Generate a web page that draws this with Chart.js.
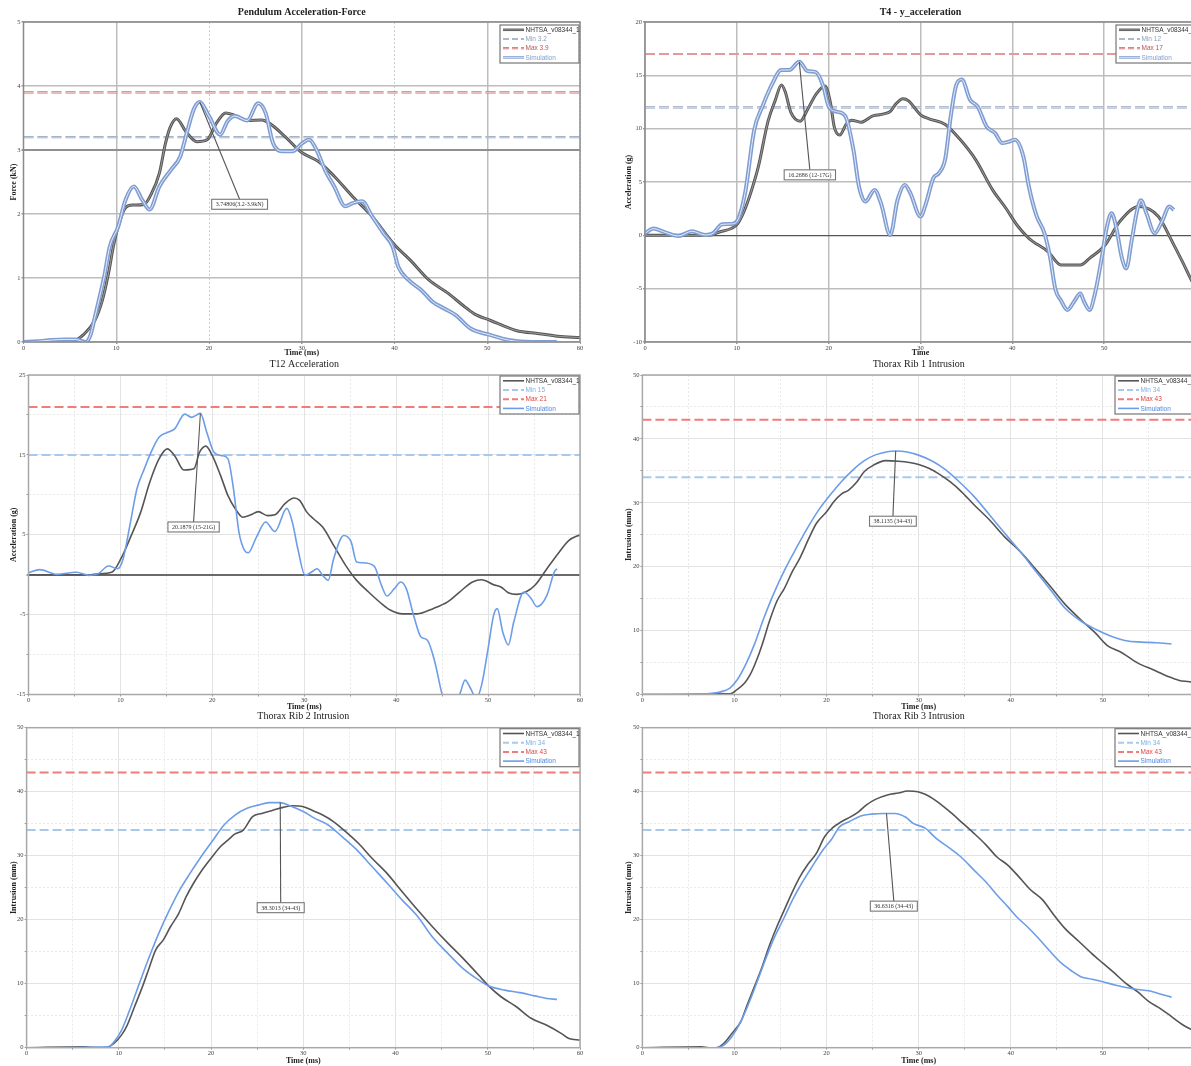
<!DOCTYPE html>
<html>
<head>
<meta charset="utf-8">
<title>Thorax test vs simulation</title>
<script src="https://cdn.jsdelivr.net/npm/chart.js@4.4.1/dist/chart.umd.min.js"></script>
<style>
  html, body { margin: 0; padding: 0; background: #fff; }
  body { width: 1191px; height: 1066px; overflow: hidden; position: relative; }
  canvas { position: absolute; }
</style>
</head>
<body>
<canvas id="c1" width="595" height="358" style="left:0px;top:0px"></canvas>
<canvas id="c2" width="610" height="358" style="left:595px;top:0px"></canvas>
<canvas id="c3" width="595" height="356" style="left:0px;top:356px"></canvas>
<canvas id="c4" width="610" height="356" style="left:595px;top:356px"></canvas>
<canvas id="c5" width="595" height="357" style="left:0px;top:709px"></canvas>
<canvas id="c6" width="610" height="357" style="left:595px;top:709px"></canvas>
<script>
// series names as shown in every legend
const testName = "NHTSA_v08344_1";
const simName = "Simulation";

// corridor limits [min, max]
const forceLimits = [3.2, 3.9];
const t4Limits = [12, 17];
const t12Limits = [15, 21];
const ribLimits = [34, 43];

// peak callout texts
const peakTexts = ["3.74806(3.2-3.9kN)", "16.2686 (12-17G)", "20.1879 (15-21G)",
  "38.1135 (34-43)", "38.3013 (34-43)", "36.6316 (34-43)"];

// [time ms, value]
const forceTest = [[5.4,0],[6.5,0.12],[7.7,0.34],[8.5,0.65],[9.2,1.1],[9.7,1.5],[10.3,1.85],[11,2.1],[11.8,2.14],[13,2.15],[13.8,2.32],[14.65,2.64],[15.3,3.1],[15.8,3.35],[16.5,3.49],[17.5,3.29],[18.7,3.13],[19.8,3.16],[20.8,3.42],[21.8,3.58],[22.8,3.54],[24.1,3.46],[25.7,3.47],[26.5,3.42],[28.2,3.21],[30,2.96],[31.8,2.82],[33.5,2.59],[35.5,2.27],[37.6,1.96],[40,1.52],[41.7,1.28],[43.7,0.97],[45.8,0.76],[47.4,0.57],[48.6,0.44],[50.3,0.34],[53.1,0.18],[55.6,0.13],[57.6,0.09],[60,0.07]];
const forceSim = [[0,0],[1.5,0.01],[3,0.03],[4.5,0.04],[5.6,0.04],[6.7,0],[7.2,0.1],[7.7,0.39],[8.2,0.7],[8.7,1.02],[9.3,1.49],[10.2,1.8],[11,2.22],[11.9,2.43],[12.8,2.22],[13.6,2.07],[14.65,2.43],[15.9,2.69],[16.9,2.9],[17.7,3.32],[18.4,3.65],[19,3.75],[20,3.53],[21.2,3.24],[22,3.45],[22.8,3.53],[24.1,3.46],[25.3,3.73],[26.1,3.58],[26.9,3.11],[28,2.98],[29,2.98],[30,3.1],[30.8,3.16],[31.6,3.0],[32.5,2.69],[33.5,2.43],[34.7,2.12],[35.5,2.17],[36.5,2.2],[37.6,1.96],[38.8,1.7],[39.8,1.49],[40.4,1.18],[41.5,0.97],[42.9,0.81],[44.1,0.63],[45.4,0.52],[46.6,0.42],[48.2,0.21],[50.3,0.11],[52.3,0.03],[54.8,0],[57.5,0]];

const t4Test = [[0,0],[7,0],[8.2,0.34],[9.45,0.66],[10.1,1.1],[10.7,2.07],[11.5,3.95],[12.35,6.46],[13.4,10.7],[14.2,12.7],[14.85,14.1],[15.25,13.5],[15.9,11.5],[16.9,10.7],[17.7,11.8],[18.6,13.2],[19.6,14.0],[20.2,12.4],[20.6,10.2],[21.2,9.4],[21.9,10.4],[22.5,10.8],[23.5,10.6],[24.8,11.2],[26.7,11.6],[27.3,12.3],[28.1,12.8],[28.7,12.6],[30,11.3],[31,10.9],[32.7,10.4],[34.3,9.0],[36,7.1],[37.85,4.26],[39.3,2.54],[40.5,0.97],[41.8,-0.28],[43.9,-1.54],[45.3,-2.79],[47.4,-2.79],[48.4,-2.16],[50.1,-0.9],[51.7,1.29],[53.8,2.7],[55.9,1.76],[57.5,-0.75],[58.6,-2.6],[59.5,-4.2],[60,-5.0]];
const t4Sim = [[0,0.2],[0.95,0.63],[2,0.34],[3.65,-0.06],[5.1,0.38],[6.55,0.03],[7.4,0.19],[8.4,1.03],[9.45,1.07],[10.1,1.44],[10.9,3.95],[11.9,9.9],[12.8,12.1],[13.8,14.1],[14.85,15.5],[15.7,15.5],[16.8,16.27],[17.7,15.4],[18.6,15.3],[19.4,14.0],[20,12.1],[20.85,11.6],[21.8,11.2],[22.7,8.0],[23.3,4.58],[24,3.17],[25,4.26],[25.7,3.0],[26.7,0.03],[27.5,3.32],[28.3,4.73],[28.9,3.95],[30,1.76],[30.6,3.0],[31.4,5.36],[32,5.83],[32.7,7.2],[33.3,11.2],[33.9,14.1],[34.5,14.6],[35.4,12.7],[36.2,12.1],[37.2,10.2],[38.1,9.6],[38.9,8.65],[39.7,8.8],[40.3,8.97],[41.2,7.4],[41.8,4.58],[42.6,1.91],[43.5,0.19],[44.1,-2.0],[44.7,-5.1],[45.3,-6.1],[46,-7.0],[46.8,-6.1],[47.4,-5.45],[47.8,-6.2],[48.4,-7.0],[49,-5.45],[49.7,-2.3],[50.3,0.8],[50.8,2.07],[51.3,0.8],[51.9,-2.0],[52.4,-3.1],[53,-0.44],[53.6,2.38],[54,3.3],[54.6,2.07],[55.5,0.19],[56.3,1.29],[57.1,2.7],[57.6,2.38]];

const t12Test = [[0,0],[6.8,0],[7.4,0.08],[9.1,0.33],[10.1,2.1],[11.1,4.7],[12.2,7.8],[13.2,11.6],[14.2,14.5],[15.1,15.75],[15.9,14.9],[16.9,13.1],[18,13.25],[18.6,15.3],[19.3,16.1],[20,14.9],[20.9,12.4],[21.7,9.9],[22.5,8.25],[23.3,7.2],[24.2,7.5],[25,7.9],[26,7.4],[26.8,7.5],[27.9,8.9],[28.9,9.6],[29.5,9.3],[30.3,7.8],[31,7.0],[32,5.96],[33.2,3.67],[34.5,1.17],[35.7,-0.71],[37,-2.17],[38.2,-3.42],[39.4,-4.46],[40.7,-4.9],[42.3,-4.9],[44,-4.25],[45.6,-3.4],[46.9,-2.17],[48.3,-0.92],[49.3,-0.63],[50.6,-1.25],[51.4,-1.54],[52.2,-2.25],[53.1,-2.46],[54.1,-2.17],[55.1,-1.33],[56.4,0.75],[57.6,2.63],[58.8,4.3],[60,5.0]];
const t12Sim = [[0,0.25],[1.2,0.63],[3.1,0.04],[5.2,0.3],[6.6,-0.08],[7.6,0.13],[8.7,1.08],[9.7,0.75],[10.3,2.0],[11.1,6.6],[11.8,10.75],[12.6,13.25],[13.4,15.5],[14.2,17.2],[15.1,17.8],[15.9,18.25],[17,20.1],[17.75,19.7],[18.7,20.19],[19.4,17.8],[20.2,15.3],[21.05,14.9],[21.7,14.5],[22.3,10.75],[22.9,5.3],[23.5,3.04],[23.9,2.75],[24.8,4.7],[25.8,6.6],[26.8,5.4],[28.1,8.3],[28.7,6.6],[29.3,3.25],[30.1,-0.08],[30.8,0.33],[31.4,0.75],[32,-0.08],[32.6,-0.71],[33.2,2.0],[34.3,4.9],[35.1,4.1],[35.7,1.58],[36.3,1.5],[37.6,1.08],[38.4,-1.33],[39,-2.67],[39.8,-1.75],[40.5,-0.92],[41.1,-1.75],[41.9,-5.1],[42.7,-7.8],[43.4,-8.2],[44.2,-10.9],[45,-15],[45.6,-17],[46.3,-17.2],[47,-14.7],[47.5,-13.2],[48.1,-14.25],[48.7,-15.5],[49.3,-13.8],[50,-9.25],[50.6,-5.1],[51,-4.25],[51.6,-7.2],[52.2,-8.8],[52.8,-5.9],[53.9,-2.17],[54.7,-3.0],[55.3,-4.0],[56.4,-2.58],[57.2,0.33],[57.5,0.75]];

const rib1Test = [[0,0],[6.4,0.05],[8.4,0.15],[9.55,0.1],[10.3,0.8],[11.1,1.8],[11.7,3.1],[12.35,5.2],[13,7.8],[13.8,11.5],[14.6,14.6],[15.45,16.7],[16.3,19.3],[17.1,21.35],[18.1,24.5],[18.9,26.8],[20,28.6],[20.8,30.2],[21.6,31.35],[22.4,32.0],[23.3,33.3],[24.1,34.9],[25.1,35.9],[26.4,36.6],[27.8,36.5],[29,36.3],[30,36.0],[31.1,35.4],[32.1,34.6],[33.4,33.3],[34.6,31.8],[36,29.7],[37.7,27.3],[39.3,24.7],[41,22.4],[42.6,19.8],[44.3,16.9],[45.9,14.1],[47.6,11.7],[49.2,9.6],[50.45,7.7],[52.1,6.5],[53.75,4.95],[55.4,3.9],[57,2.86],[58.3,2.2],[59.4,2.0],[60,1.8]];
const rib1Sim = [[0,0],[6.4,0.1],[8.4,0.4],[9.5,1.0],[10.3,2.3],[11.3,4.95],[12.15,7.8],[13.2,12.0],[14.2,15.6],[15.45,19.5],[16.7,22.9],[17.9,26.0],[19.15,28.9],[20.4,31.25],[21.6,33.3],[22.9,35.2],[24.1,36.6],[25.3,37.5],[26.6,38.0],[27.5,38.11],[28.6,38.0],[29.9,37.5],[31.5,36.5],[32.9,35.2],[34.4,33.3],[36,31.0],[37.7,28.1],[39.3,25.3],[41,22.4],[42.6,19.5],[44.3,16.4],[45.9,13.5],[47.6,11.5],[49.2,10.2],[50.9,9.1],[52.5,8.4],[54.2,8.2],[55.8,8.1],[57.45,7.9]];

const rib2Test = [[0,0],[6.2,0.15],[7,0.05],[8.6,0],[9.5,0.7],[10.3,2.0],[10.9,3.5],[11.7,6.4],[12.55,9.5],[13.2,12.1],[14,15.3],[14.8,16.8],[15.6,18.9],[16.5,21.0],[17.3,23.6],[18.1,25.7],[18.9,27.5],[20,29.6],[21,31.4],[21.8,32.4],[22.6,33.4],[23.5,34.0],[24.5,36.1],[25.5,36.6],[26.7,37.1],[27.8,37.55],[28.8,37.8],[30,37.65],[31.1,37.0],[32.1,36.35],[33.3,35.3],[34.6,33.75],[36,31.9],[37.45,29.6],[39.1,27.2],[40.7,24.4],[42.4,21.5],[44,18.9],[45.7,16.3],[47.3,14.0],[49,11.35],[50.2,9.5],[51.4,8.0],[53.1,6.4],[54.7,4.6],[56.4,3.5],[58,2.2],[58.8,1.45],[60,1.2]];
const rib2Sim = [[0,0],[8.85,0.15],[9.5,0.95],[10.3,2.75],[11.1,5.6],[11.9,8.75],[12.75,12.1],[13.6,15.3],[14.4,18.1],[15.4,21.25],[16.5,24.4],[17.7,27.2],[18.9,29.8],[20.2,32.4],[21.4,34.8],[22.6,36.35],[23.9,37.4],[25.1,37.9],[26.3,38.3],[27.5,38.3],[28.4,37.9],[30,36.9],[31.3,35.8],[32.7,34.8],[34.2,32.97],[35.8,30.9],[37.45,28.3],[39.1,25.7],[40.7,23.1],[42.4,20.5],[44,17.3],[45.7,14.7],[47.3,12.4],[49,10.6],[50.2,9.6],[51.85,9.0],[53.5,8.6],[55.1,8.1],[56.4,7.7],[57.5,7.55]];

const rib3Test = [[0,0],[6.4,0.15],[7.2,0],[8,0],[8.85,0.7],[9.7,2.2],[10.7,4.1],[11.3,6.4],[12.15,9.5],[13,12.65],[13.8,16.0],[14.6,18.9],[15.4,21.5],[16.3,24.4],[17.1,26.7],[17.9,28.5],[18.9,30.4],[19.8,33.0],[20.6,34.3],[21.6,35.3],[22.65,36.1],[23.5,36.9],[24.3,37.9],[25.3,38.8],[26.6,39.5],[27.8,39.8],[28.8,40.1],[29.9,40.0],[30.7,39.6],[31.5,38.95],[32.5,37.9],[33.6,36.6],[34.8,35.05],[36,33.5],[37.3,31.7],[38.5,29.8],[39.7,28.5],[41,26.5],[42.2,24.6],[43.45,23.1],[44.7,20.7],[45.9,18.6],[47.4,16.6],[48.8,14.7],[50,13.2],[51.3,11.6],[52.5,10.05],[53.75,8.75],[55,7.2],[56.2,6.15],[57.45,4.85],[58.7,3.54],[59.4,3.0],[60,2.5]];
const rib3Sim = [[0,0],[8,0],[8.85,0.4],[9.7,1.7],[10.7,4.1],[11.7,7.45],[13,12.4],[14.2,16.8],[15.45,20.5],[16.3,23.1],[17.3,25.7],[18.3,28.0],[19.6,30.9],[20.6,32.7],[21.4,34.5],[22.45,35.3],[23.7,36.2],[24.9,36.5],[26.15,36.6],[27.4,36.6],[28.6,36.0],[29.4,35.05],[30.7,34.3],[31.9,32.7],[33.4,31.15],[34.6,29.8],[36,27.75],[37.3,25.9],[38.5,23.85],[39.7,22.0],[40.6,20.5],[41.8,18.9],[43,17.1],[44.3,15.0],[45.5,13.2],[46.7,11.9],[47.6,11.1],[48.8,10.7],[50,10.3],[51.3,9.8],[52.5,9.4],[53.75,9.1],[55,8.9],[56.2,8.4],[57.45,7.9]];

const pts = (arr) => arr.map(([x, y]) => ({ x, y }));
const flat = (v) => [{ x: 0, y: v }, { x: 60, y: v }];

const SERIF = "'Liberation Serif', 'DejaVu Serif', serif";
const SANS = "'Liberation Sans', 'DejaVu Sans', sans-serif";

// top row is rendered with "outlined" strokes, lower rows are plain
const oldLook = {
  test: { color: "#565656", width: 3, inner: "#9c9c9c", text: "#333" },
  min: { color: "#8d9fb7", width: 2.2, inner: "#d8dfe9", text: "#8d9fb7" },
  max: { color: "#d26a6a", width: 2.2, inner: "#f1caca", text: "#c85050" },
  sim: { color: "#7f9dd2", width: 4, inner: "#e7edf8", text: "#7f9dd2" },
  dash: [10, 4],
  major: "#bdbdbd", minor: "#cdcdcd", majorWidth: 1.5, frame: "#8a8a8a", zero: "#555", zeroWidth: 1.2
};
const newLook = {
  test: { color: "#555555", width: 1.6, text: "#333" },
  min: { color: "#a9c9ec", width: 2, text: "#7fb0e2" },
  max: { color: "#f27b7b", width: 2, text: "#e04545" },
  sim: { color: "#6d9de8", width: 1.6, text: "#4f87dd" },
  dash: [9, 4],
  major: "#e3e3e3", minor: "#e9e9e9", majorWidth: 1, frame: "#a8a8a8", zero: "#6a6a6a", zeroWidth: 2
};

const overlay = {
  id: "overlay",
  afterDatasetsDraw(chart, args, opts) {
    const { ctx, chartArea: a, scales: { x, y } } = chart;
    ctx.save();
    // plot frame
    ctx.strokeStyle = opts.frame;
    ctx.lineWidth = 1.5;
    ctx.strokeRect(a.left, a.top, a.right - a.left, a.bottom - a.top);

    // peak callout
    const c = opts.callout;
    const px = x.getPixelForValue(c.peak[0]), py = y.getPixelForValue(c.peak[1]);
    const bx = x.getPixelForValue(c.box[0]), by = y.getPixelForValue(c.box[1]);
    ctx.font = "6px " + SERIF;
    const w = ctx.measureText(c.text).width + 8, h = 10;
    ctx.strokeStyle = "#555";
    ctx.lineWidth = 1.1;
    ctx.beginPath();
    ctx.moveTo(px, py);
    ctx.lineTo(bx, by);
    ctx.stroke();
    ctx.fillStyle = "#fff";
    ctx.fillRect(bx - w / 2, by, w, h);
    ctx.strokeStyle = "#777";
    ctx.strokeRect(bx - w / 2, by, w, h);
    ctx.fillStyle = "#333";
    ctx.textAlign = "center";
    ctx.textBaseline = "middle";
    ctx.fillText(c.text, bx, by + h / 2 + 0.5);

    // legend box, top right inside the plot
    const bw = 79, bh = 38;
    const left = a.right - 1 - bw, top = a.top + opts.legendOffset;
    ctx.fillStyle = "#fff";
    ctx.fillRect(left, top, bw, bh);
    ctx.strokeStyle = "#777";
    ctx.lineWidth = 1.2;
    ctx.strokeRect(left, top, bw, bh);
    ctx.font = "6.5px " + SANS;
    ctx.textAlign = "left";
    const entries = chart.data.datasets.filter((d) => !d.isInner);
    entries.forEach((d, i) => {
      const yy = top + 4.8 + i * 9.2;
      ctx.setLineDash(d.borderDash.length ? [6, 3] : []);
      ctx.strokeStyle = d.borderColor;
      ctx.lineWidth = Math.min(d.borderWidth, 2.5);
      ctx.beginPath();
      ctx.moveTo(left + 3, yy);
      ctx.lineTo(left + 24, yy);
      ctx.stroke();
      if (d.innerColor) {
        ctx.strokeStyle = d.innerColor;
        ctx.lineWidth = 0.8;
        ctx.stroke();
      }
      ctx.setLineDash([]);
      ctx.fillStyle = d.textColor;
      ctx.fillText(d.label, left + 25.5, yy + 0.5);
    });
    ctx.restore();
  }
};
Chart.register(overlay);

function buildChart(id, p) {
  const look = p.look;
  const datasets = [];
  const add = (label, data, s, dash, order) => {
    datasets.push({
      label, data, order,
      borderColor: s.color, borderWidth: s.width, borderDash: dash,
      textColor: s.text, innerColor: s.inner,
      pointRadius: 0, fill: false, cubicInterpolationMode: "monotone"
    });
  };
  add(testName, pts(p.test), look.test, [], 4);
  add("Min " + p.limits[0], flat(p.limits[0]), look.min, look.dash, 6);
  add("Max " + p.limits[1], flat(p.limits[1]), look.max, look.dash, 6);
  add(simName, pts(p.sim), look.sim, [], 2);
  datasets.slice().forEach((d) => {
    if (d.innerColor) {
      datasets.push({ ...d, label: "", borderColor: d.innerColor, borderWidth: 1, order: d.order - 1, isInner: true });
    }
  });

  const g = p.geo;
  const zeroColor = p.zeroColor || look.zero;
  const zeroWidth = p.zeroWidth || look.zeroWidth;
  const gridKind = (axis, v) => {
    if (axis === "y" && p.zero !== undefined && v === p.zero) return "zero";
    return (axis === "x" ? p.xMajor(v) : p.yMajor(v)) ? "major" : "minor";
  };
  const gridOpts = (axis) => ({
    color: (ctx) => {
      const k = gridKind(axis, ctx.tick.value);
      return k === "zero" ? zeroColor : k === "major" ? look.major : look.minor;
    },
    lineWidth: (ctx) => {
      const k = gridKind(axis, ctx.tick.value);
      return k === "zero" ? zeroWidth : k === "major" ? look.majorWidth : 1;
    },
    drawTicks: true,
    tickLength: 2,
    tickColor: "#999"
  });
  const borderOpts = (axis) => ({
    display: false,
    dash: (ctx) => (ctx.tick && gridKind(axis, ctx.tick.value) === "minor" ? [2, 2] : [])
  });
  const tickFont = { family: SERIF, size: 6.5 };
  const axisTitleFont = { family: SERIF, size: 8, weight: "bold" };

  return new Chart(document.getElementById(id), {
    type: "line",
    data: { datasets },
    options: {
      responsive: false,
      animation: false,
      events: [],
      layout: { padding: { left: 0, right: g.padRight, top: 0, bottom: 0 } },
      plugins: {
        legend: { display: false },
        tooltip: { enabled: false },
        title: {
          display: true,
          text: p.title,
          fullSize: false,
          color: "#222",
          font: { family: SERIF, size: 10, weight: p.titleBold ? "bold" : "normal" },
          padding: { top: g.titleTop, bottom: g.titleBottom }
        },
        overlay: {
          frame: look.frame,
          legendOffset: g.legendOffset,
          callout: p.callout
        }
      },
      scales: {
        x: {
          type: "linear",
          min: 0,
          max: 60,
          ticks: {
            stepSize: p.xStep,
            autoSkip: false,
            maxRotation: 0,
            padding: 0,
            color: "#444",
            font: tickFont,
            callback: (v) => (v % 10 === 0 ? String(v) : "")
          },
          grid: gridOpts("x"),
          border: borderOpts("x"),
          title: { display: true, text: p.xTitle, color: "#222", font: axisTitleFont, padding: { top: g.xTitlePad, bottom: 0 } },
          afterFit: (s) => { s.height = g.xHeight; s.paddingLeft = 0; s.paddingRight = 0; }
        },
        y: {
          type: "linear",
          min: p.yMin,
          max: p.yMax,
          ticks: {
            stepSize: p.yStep,
            autoSkip: false,
            padding: 1,
            color: "#444",
            font: tickFont,
            callback: (v) => (p.yLabel(v) ? String(v) : "")
          },
          grid: gridOpts("y"),
          border: borderOpts("y"),
          title: { display: true, text: p.yTitle, color: "#222", font: axisTitleFont, padding: { top: g.yTitlePad, bottom: 0 } },
          afterFit: (s) => { s.width = g.yWidth; s.paddingTop = 0; s.paddingBottom = 0; }
        }
      }
    }
  });
}

const every = () => true;
const tens = (v) => v % 10 === 0;

buildChart("c1", {
  title: "Pendulum Acceleration-Force", titleBold: true, look: oldLook,
  xTitle: "Time (ms)", yTitle: "Force (kN)",
  test: forceTest, sim: forceSim, limits: forceLimits,
  yMin: 0, yMax: 5, yStep: 1, xStep: 10, zero: 3, zeroColor: "#909090", zeroWidth: 2,
  yLabel: every, yMajor: every, xMajor: (v) => v % 20 !== 0,
  callout: { peak: [19, 3.75], box: [23.3, 2.23], text: peakTexts[0] },
  geo: { padRight: 15, yWidth: 23.5, yTitlePad: 9.6, xHeight: 16, xTitlePad: 0, titleTop: 6, titleBottom: 4, legendOffset: 3 }
});

buildChart("c2", {
  title: "T4 - y_acceleration", titleBold: true, look: oldLook,
  xTitle: "Time", yTitle: "Acceleration (g)",
  test: t4Test, sim: t4Sim, limits: t4Limits,
  yMin: -10, yMax: 20, yStep: 5, xStep: 10, zero: 0,
  yLabel: every, yMajor: every, xMajor: every,
  callout: { peak: [16.8, 16.27], box: [17.95, 6.14], text: peakTexts[1] },
  geo: { padRight: 9, yWidth: 50, yTitlePad: 29.2, xHeight: 16, xTitlePad: 0, titleTop: 6, titleBottom: 4, legendOffset: 3 }
});

buildChart("c3", {
  title: "T12 Acceleration", titleBold: false, look: newLook,
  xTitle: "Time (ms)", yTitle: "Acceleration (g)",
  test: t12Test, sim: t12Sim, limits: t12Limits,
  yMin: -15, yMax: 25, yStep: 5, xStep: 5, zero: 0,
  yLabel: (v) => (v + 15) % 10 === 0, yMajor: (v) => (v + 15) % 10 === 0, xMajor: tens,
  callout: { peak: [18.7, 20.19], box: [17.96, 6.6], text: peakTexts[2] },
  geo: { padRight: 15, yWidth: 28.5, yTitlePad: 9.6, xHeight: 17.5, xTitlePad: 0.5, titleTop: 2, titleBottom: 5, legendOffset: 1 }
});

buildChart("c4", {
  title: "Thorax Rib 1 Intrusion", titleBold: false, look: newLook,
  xTitle: "Time (ms)", yTitle: "Intrusion (mm)",
  test: rib1Test, sim: rib1Sim, limits: ribLimits,
  yMin: 0, yMax: 50, yStep: 5, xStep: 5,
  yLabel: tens, yMajor: tens, xMajor: tens,
  callout: { peak: [27.5, 38.11], box: [27.2, 27.9], text: peakTexts[3] },
  geo: { padRight: 10, yWidth: 47.4, yTitlePad: 29.4, xHeight: 17.5, xTitlePad: 0.5, titleTop: 2, titleBottom: 5, legendOffset: 1 }
});

buildChart("c5", {
  title: "Thorax Rib 2 Intrusion", titleBold: false, look: newLook,
  xTitle: "Time (ms)", yTitle: "Intrusion (mm)",
  test: rib2Test, sim: rib2Sim, limits: ribLimits,
  yMin: 0, yMax: 50, yStep: 5, xStep: 5,
  yLabel: tens, yMajor: tens, xMajor: tens,
  callout: { peak: [27.5, 38.3], box: [27.55, 22.66], text: peakTexts[4] },
  geo: { padRight: 15, yWidth: 26.6, yTitlePad: 9.2, xHeight: 18.3, xTitlePad: 1.9, titleTop: 1.7, titleBottom: 5, legendOffset: 1 }
});

buildChart("c6", {
  title: "Thorax Rib 3 Intrusion", titleBold: false, look: newLook,
  xTitle: "Time (ms)", yTitle: "Intrusion (mm)",
  test: rib3Test, sim: rib3Sim, limits: ribLimits,
  yMin: 0, yMax: 50, yStep: 5, xStep: 5,
  yLabel: tens, yMajor: tens, xMajor: tens,
  callout: { peak: [26.5, 36.63], box: [27.3, 22.9], text: peakTexts[5] },
  geo: { padRight: 10, yWidth: 47.4, yTitlePad: 29.4, xHeight: 18.3, xTitlePad: 1.9, titleTop: 1.7, titleBottom: 5, legendOffset: 1 }
});
</script>
</body>
</html>
